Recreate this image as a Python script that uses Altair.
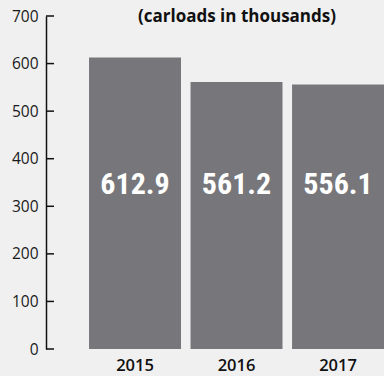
import altair as alt
import pandas as pd

years = ["2015", "2016", "2017"]
values = [612.9, 561.2, 556.1]
labels = ["612.9", "561.2", "556.1"]
tick_values = [0, 100, 200, 300, 400, 500, 600, 700]
title_text = "(carloads in thousands)"

df = pd.DataFrame({"year": years, "value": values, "label": labels})
ticks_df = pd.DataFrame({"t": tick_values})

xscale = alt.Scale(domain=years, paddingInner=0.094, paddingOuter=0.212, align=1)
yscale = alt.Scale(domain=[0, 700], nice=False)

bars = alt.Chart(df).mark_bar(color="#77777b").encode(
    x=alt.X("year:N", scale=xscale, sort=years, title=None,
            axis=alt.Axis(labelAngle=0, ticks=False, domain=False, labelPadding=8,
                          labelFont="Open Sans", labelFontSize=16.5, labelFontWeight=600,
                          labelColor="#111")),
    y=alt.Y("value:Q", scale=yscale, title=None,
            axis=alt.Axis(values=tick_values, ticks=False, domain=True, domainColor="#111",
                          domainWidth=1.5, labelPadding=8, labelFont="Open Sans",
                          labelFontSize=15.5, labelColor="#1a1a1a", grid=False)),
)

vals = alt.Chart(df).mark_text(
    color="white",
    font="Roboto Condensed, Noto Sans Condensed, Open Sans Condensed, DejaVu Sans Condensed, Liberation Sans Narrow, Arial Narrow, Liberation Sans",
    fontSize=30, fontWeight="bold", baseline="middle").encode(
    x=alt.X("year:N", scale=xscale, sort=years),
    y=alt.value(169),
    text="label:N",
)

tick_rules = alt.Chart(ticks_df).mark_rule(color="#111", strokeWidth=1.5).encode(
    y=alt.Y("t:Q", scale=yscale),
    x=alt.value(0),
    x2=alt.value(8),
)

title = alt.Chart(pd.DataFrame({"t": [title_text]})).mark_text(
    font="Open Sans", fontSize=17, fontWeight="bold", color="#111", baseline="middle"
).encode(x=alt.value(191), y=alt.value(1), text="t:N")

chart = alt.layer(bars, vals, tick_rules, title).properties(
    width=338, height=333,
    autosize=alt.AutoSizeParams(type="none"),
    padding={"left": 46, "top": 16, "right": 0, "bottom": 27},
    background="#f0f0f0",
).configure_view(stroke=None)

chart.save("out.html", embed_options={"renderer": "svg", "actions": False})
